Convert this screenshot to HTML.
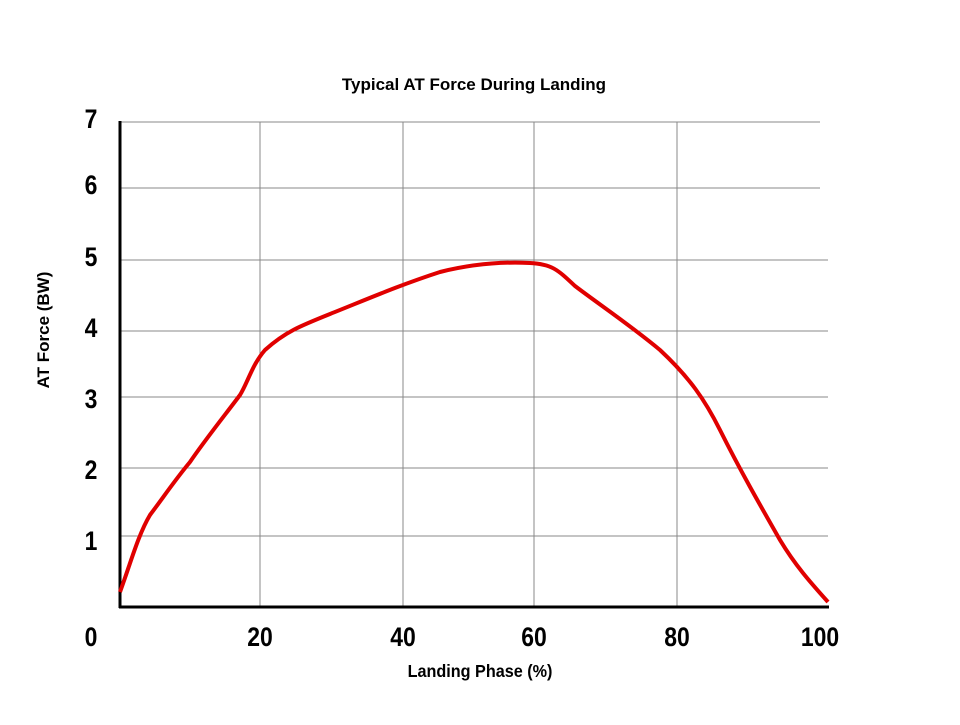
<!DOCTYPE html>
<html><head><style>body{margin:0;background:#fff}</style></head><body>
<svg width="960" height="720" xmlns="http://www.w3.org/2000/svg" font-family="Liberation Sans, Arial, sans-serif">
<rect width="960" height="720" fill="#fff"/>
<text x="474" y="90" text-anchor="middle" font-size="17" font-weight="bold">Typical AT Force During Landing</text>
<g stroke="#888" stroke-width="1">
<line x1="120" y1="122" x2="820" y2="122"/>
<line x1="120" y1="188" x2="820" y2="188"/>
<line x1="120" y1="260" x2="828" y2="260"/>
<line x1="120" y1="331" x2="828" y2="331"/>
<line x1="120" y1="397" x2="828" y2="397"/>
<line x1="120" y1="468" x2="828" y2="468"/>
<line x1="120" y1="536" x2="828" y2="536"/>
<line x1="260" y1="122" x2="260" y2="607"/>
<line x1="403" y1="122" x2="403" y2="607"/>
<line x1="534" y1="122" x2="534" y2="607"/>
<line x1="677" y1="122" x2="677" y2="607"/>
</g>
<line x1="120" y1="121" x2="120" y2="608" stroke="#000" stroke-width="3"/>
<line x1="119" y1="607" x2="829" y2="607" stroke="#000" stroke-width="3"/>
<path d="M120,592 C130,565 138,535 150,515 C165,495 175,480 190,462 C205,440 225,415 240,395 C248,382 252,365 265,350 C285,332 300,326 330,314 C370,298 400,285 440,272 C480,262 510,262 530,263 C552,264 558,270 575,286 C600,305 630,325 660,350 C690,378 705,400 720,430 C740,470 760,505 780,540 C795,565 810,582 828,602" fill="none" stroke="#e00000" stroke-width="4" stroke-linejoin="round"/>
<g font-size="27" font-weight="bold" text-anchor="middle">
<text transform="translate(91,128) scale(0.85,1)">7</text>
<text transform="translate(91,194) scale(0.85,1)">6</text>
<text transform="translate(91,266) scale(0.85,1)">5</text>
<text transform="translate(91,337) scale(0.85,1)">4</text>
<text transform="translate(91,408) scale(0.85,1)">3</text>
<text transform="translate(91,479) scale(0.85,1)">2</text>
<text transform="translate(91,550) scale(0.85,1)">1</text>
<text transform="translate(91,646) scale(0.85,1)">0</text>
<text transform="translate(260,646) scale(0.85,1)">20</text>
<text transform="translate(403,646) scale(0.85,1)">40</text>
<text transform="translate(534,646) scale(0.85,1)">60</text>
<text transform="translate(677,646) scale(0.85,1)">80</text>
<text transform="translate(820,646) scale(0.85,1)">100</text>
</g>
<text transform="translate(480,677) scale(0.9,1)" text-anchor="middle" font-size="18" font-weight="bold">Landing Phase (%)</text>
<text transform="translate(49,330) rotate(-90)" text-anchor="middle" font-size="17" font-weight="bold">AT Force (BW)</text>
</svg>
</body></html>
